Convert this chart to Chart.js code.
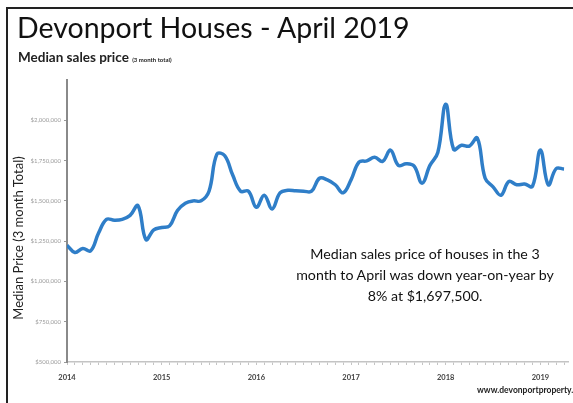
<!DOCTYPE html>
<html>
<head>
<meta charset="utf-8">
<script src="https://cdn.jsdelivr.net/npm/chart.js@4/dist/chart.umd.min.js"></script>
<style>
  html, body { margin: 0; padding: 0; background: #fff; }
  #wrap { position: relative; width: 573px; height: 403px; overflow: hidden; font-family: Lato, 'Open Sans', sans-serif; }
  #frame { position: absolute; left: 6px; top: 7px; width: 600px; height: 420px; border-left: 2px solid #222; border-top: 2px solid #222; }
  #title { position: absolute; left: 17px; top: 10px; font-size: 28.5px; color: #111; white-space: nowrap; }
  #sub { position: absolute; left: 18px; top: 49px; font-size: 13.5px; font-weight: bold; color: #222; white-space: nowrap; }
  #sub small { font-size: 6px; font-weight: bold; }
  #ytitle { position: absolute; left: 18px; top: 238px; transform: translate(-50%, -50%) rotate(-90deg); font-size: 13px; color: #222; white-space: nowrap; }
  #note { position: absolute; left: 290px; top: 243px; width: 270px; text-align: center; font-size: 14.2px; line-height: 21px; color: #111; white-space: nowrap; }
  #foot { position: absolute; left: 477px; top: 385px; font-size: 8.5px; font-weight: bold; color: #222; white-space: nowrap; }
  #c { position: absolute; left: 0; top: 0; }
</style>
</head>
<body>
<div id="wrap">
  <canvas id="c" width="573" height="403"></canvas>
  <div id="frame"></div>
  <div id="title">Devonport Houses - April 2019</div>
  <div id="sub">Median sales price <small>(3 month total)</small></div>
  <div id="ytitle">Median Price (3 month Total)</div>
  <div id="note">Median sales price of houses in the 3<br>month to April was down year-on-year by<br>8% at $1,697,500.</div>
  <div id="foot">www.devonportproperty.nz</div>
</div>
<script>
// months since Jan 2014, one value per month (3 month median, $)
const months = [
  0, 1, 2, 3, 4, 5, 6, 7, 8, 9, 10, 11,
  12, 13, 14, 15, 16, 17, 18, 19, 20, 21, 22, 23,
  24, 25, 26, 27, 28, 29, 30, 31, 32, 33, 34, 35,
  36, 37, 38, 39, 40, 41, 42, 43, 44, 45, 46, 47,
  48, 49, 50, 51, 52, 53, 54, 55, 56, 57, 58, 59,
  60, 61, 62, 63
];
const medianPrice = [
  1225000, 1180000, 1205000, 1190000, 1300000, 1385000, 1380000, 1385000, 1410000, 1470000, 1260000, 1320000,
  1335000, 1345000, 1440000, 1485000, 1500000, 1500000, 1560000, 1790000, 1780000, 1660000, 1560000, 1560000,
  1460000, 1535000, 1450000, 1550000, 1566000, 1562000, 1560000, 1560000, 1640000, 1630000, 1600000, 1550000,
  1630000, 1740000, 1748000, 1770000, 1745000, 1815000, 1720000, 1730000, 1715000, 1610000, 1720000, 1800000,
  2100000, 1820000, 1845000, 1840000, 1890000, 1640000, 1587000, 1535000, 1620000, 1600000, 1604000, 1590000,
  1815000, 1600000, 1700000, 1697500
];
const yearLabels = ['2014', '2015', '2016', '2017', '2018', '2019'];
const yTicks = [500000, 750000, 1000000, 1250000, 1500000, 1750000, 2000000];

const fmt = v => '$' + v.toLocaleString('en-US');

new Chart(document.getElementById('c'), {
  type: 'line',
  data: {
    datasets: [{
      data: months.map((m, i) => ({ x: m, y: medianPrice[i] })),
      borderColor: '#2f7ec8',
      borderWidth: 3.5,
      pointRadius: 0,
      tension: 0.4,
      fill: false
    }]
  },
  options: {
    responsive: false,
    animation: false,
    layout: { padding: { top: 80, right: 5, left: 0, bottom: 0 } },
    plugins: { legend: { display: false }, tooltip: { enabled: false } },
    scales: {
      x: {
        type: 'linear', min: 0, max: 63.5,
        afterFit: s => { s.height = 41; },
        grid: { drawOnChartArea: false, drawTicks: true, tickLength: 3, color: '#c4c4c4' },
        border: { color: '#c4c4c4', width: 1.5 },
        ticks: {
          stepSize: 1, includeBounds: false, autoSkip: false, maxRotation: 0, padding: 8,
          color: '#444', font: { family: 'Lato', size: 7.5, weight: 'bold' },
          callback: v => (v % 12 === 0 ? yearLabels[v / 12] : '')
        }
      },
      y: {
        type: 'linear', min: 500000, max: 2250000,
        afterFit: s => { s.width = 67; },
        afterBuildTicks: s => { s.ticks = yTicks.map(v => ({ value: v })); },
        grid: { drawOnChartArea: false, drawTicks: true, tickLength: 3, color: '#999' },
        border: { color: '#8a8a8a', width: 2 },
        ticks: {
          color: '#9a9a9a', padding: 3,
          font: { family: 'Lato', size: 6 },
          callback: v => fmt(v)
        }
      }
    }
  }
});
</script>
</body>
</html>
